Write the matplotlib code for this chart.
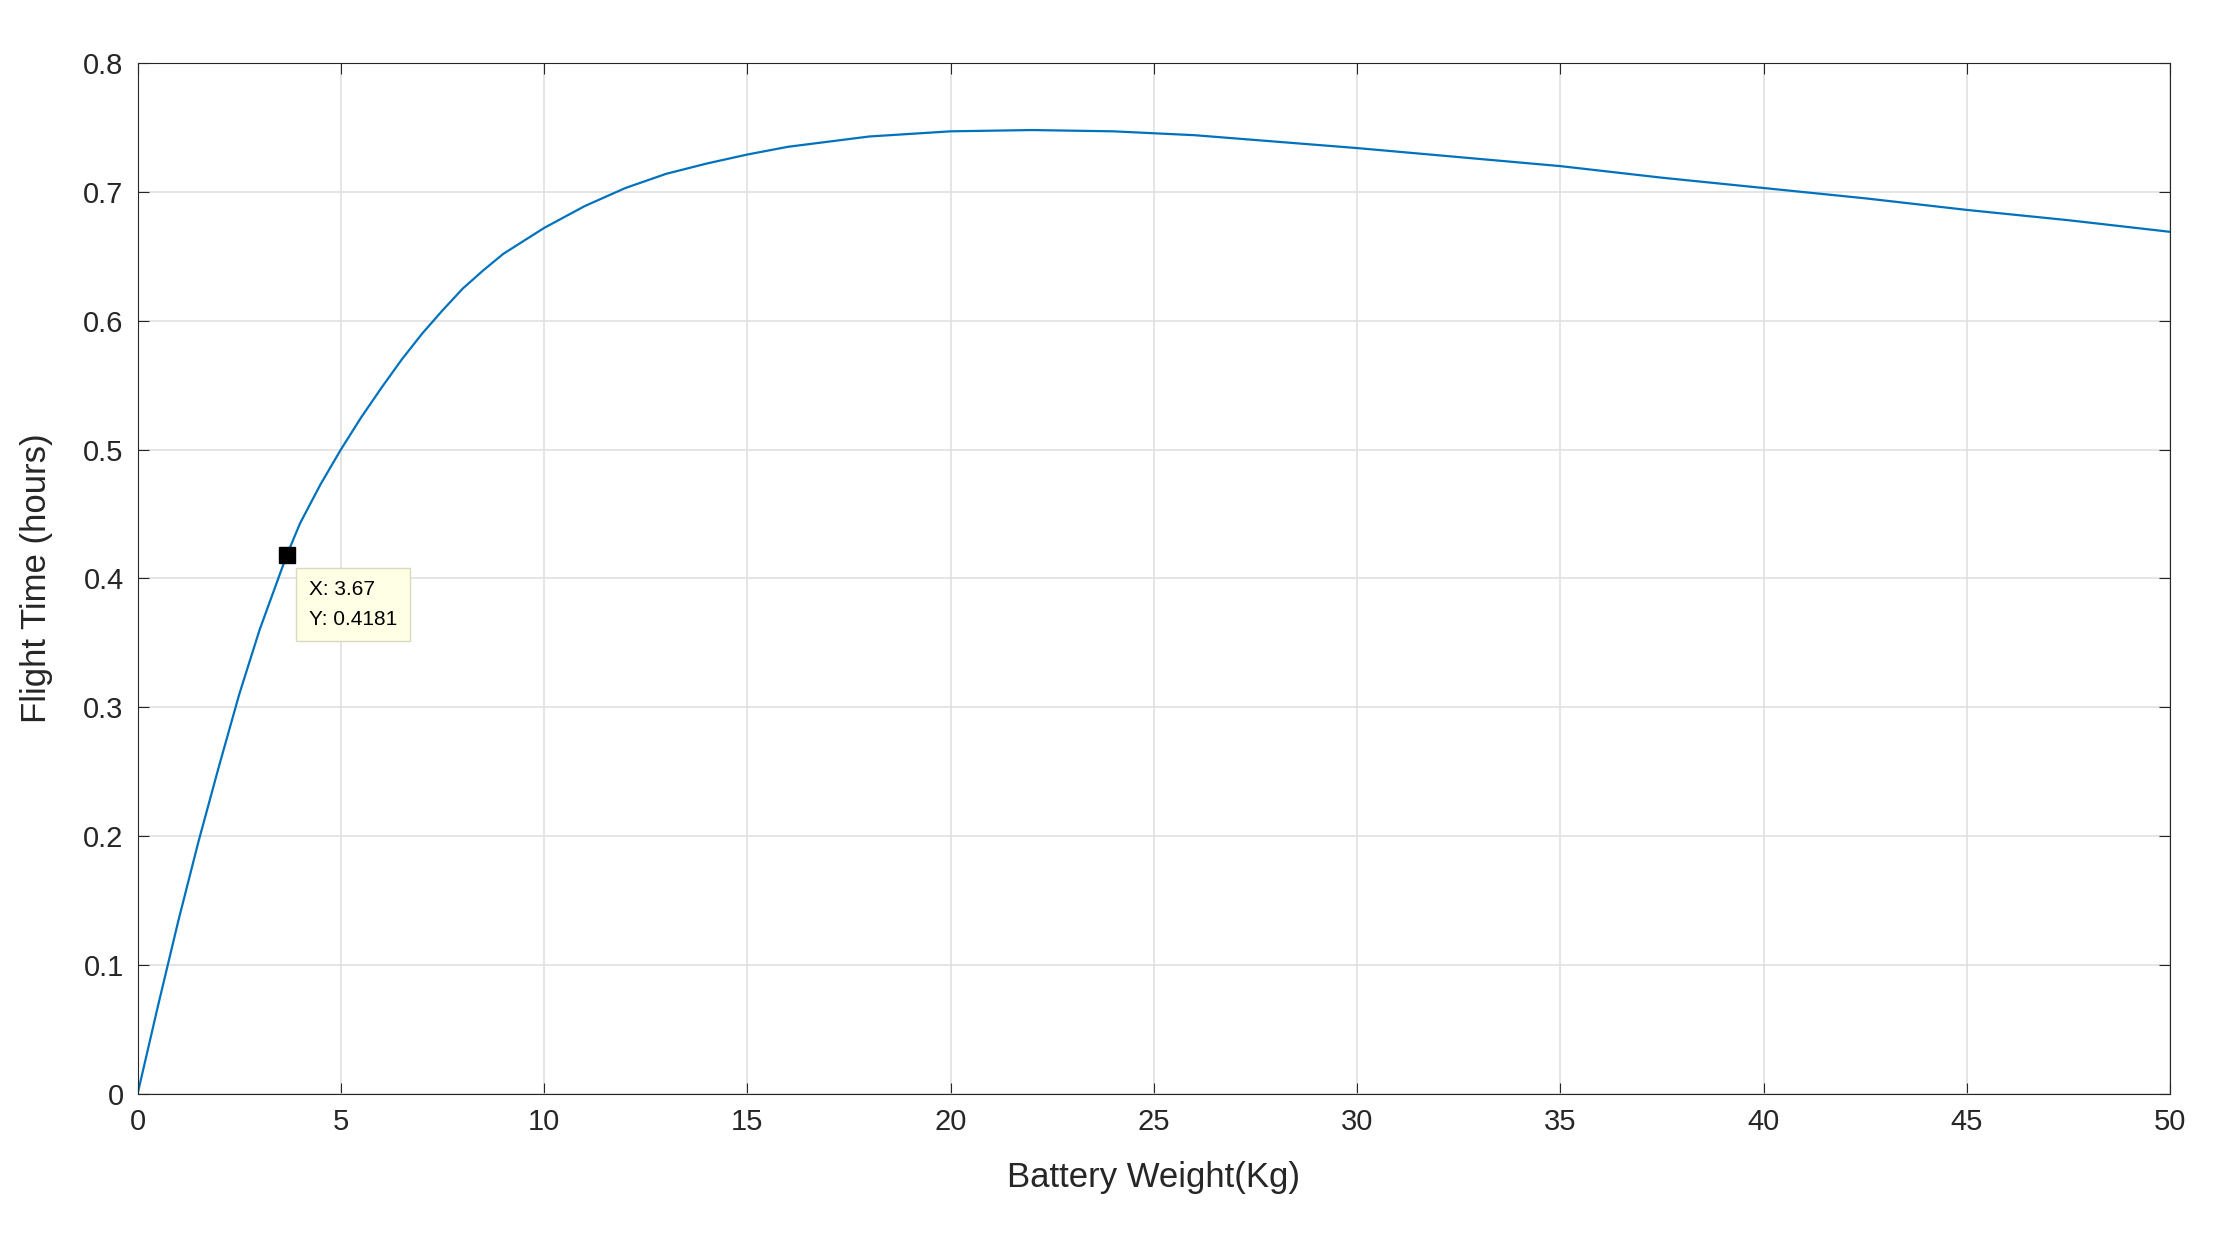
import matplotlib.pyplot as plt

battery_kg = [0, 0.5, 1, 1.5, 2, 2.5, 3, 3.67, 4, 4.5, 5, 5.5, 6, 6.5, 7, 7.5, 8, 8.5, 9, 9.5, 10,
              11, 12, 13, 14, 15, 16, 17, 18, 19, 20, 22, 24, 26, 28, 30, 32.5, 35, 37.5, 40,
              42.5, 45, 47.5, 50]
flight_h = [0, 0.068, 0.134, 0.196, 0.254, 0.31, 0.36, 0.4181, 0.443, 0.473, 0.50, 0.525,
            0.548, 0.57, 0.59, 0.608, 0.625, 0.639, 0.652, 0.662, 0.672, 0.689, 0.703, 0.714,
            0.722, 0.729, 0.735, 0.739, 0.743, 0.745, 0.747, 0.748, 0.747, 0.744, 0.739, 0.734,
            0.727, 0.72, 0.711, 0.703, 0.695, 0.686, 0.678, 0.669]
tip_x, tip_y = 3.67, 0.4181

plt.rcParams['font.family'] = ['Liberation Sans', 'DejaVu Sans']
fig = plt.figure(figsize=(22.19, 12.36), dpi=100)
ax = fig.add_axes([0.062, 0.115, 0.916, 0.834])
ax.plot(battery_kg, flight_h, color='#0072bd', lw=1.6)
ax.plot([tip_x], [tip_y], 's', color='black', ms=11)
ax.annotate(f"X: {tip_x}\nY: {tip_y}", (tip_x, tip_y), xytext=(16, -18), textcoords='offset points',
            va='top', ha='left', fontsize=15, linespacing=1.7,
            bbox=dict(boxstyle='square,pad=0.6', fc='#ffffe6', ec='#d9d9c0'))
ax.set_xlim(0, 50)
ax.set_ylim(0, 0.8)
ax.set_xticks(range(0, 51, 5))
ax.set_yticks([i / 10 for i in range(9)])
ax.set_yticklabels(['0'] + [f"{i / 10:.1f}" for i in range(1, 9)])
ax.grid(True, color='#e0e0e0', lw=1.2)
ax.tick_params(direction='in', top=True, right=True, labelsize=21, length=8, colors='#262626', pad=10)
for s in ax.spines.values():
    s.set_color('#262626')
ax.set_xlabel('Battery Weight(Kg)', fontsize=25, color='#262626', labelpad=18)
ax.set_ylabel('Flight Time (hours)', fontsize=25, color='#262626', labelpad=22)
fig.savefig('out.png')
